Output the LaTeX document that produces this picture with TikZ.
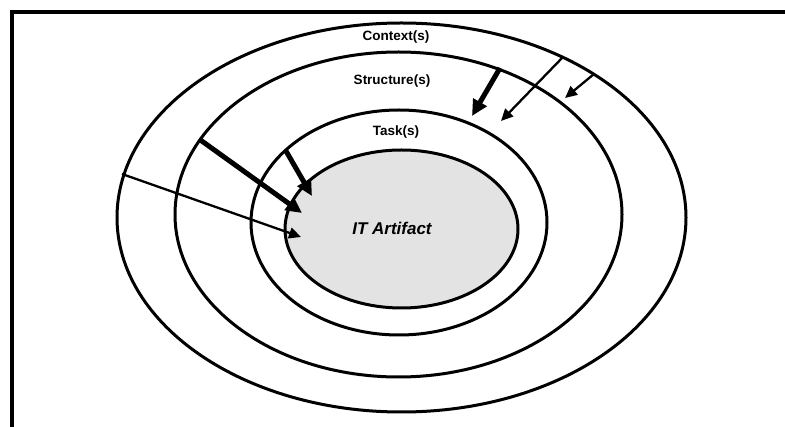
\documentclass[tikz,border=0pt]{standalone}
\usepackage{fontspec}
\setmainfont{Liberation Sans}
\usetikzlibrary{shapes.geometric,arrows.meta}
\begin{document}
\begin{tikzpicture}[x=1pt,y=-1pt,
  ring/.style={draw=black,line width=3pt,ellipse,inner sep=0pt,outer sep=0pt},
  lbl/.style={font=\fontsize{13.5}{16}\selectfont\bfseries,inner sep=0pt},
  thinarrow/.style={line width=2.3pt,-{Triangle[length=12pt,width=11pt]}},
  thickarrow/.style={line width=5pt,-{Triangle[length=16pt,width=15pt]}}]
  \useasboundingbox (0,0) rectangle (785,427);
  % frame
  \draw[line width=4.5pt] (12,427) -- (12,11.8) -- (785,11.8);
  % nested layers
  \node[ring,minimum width=569pt,minimum height=389pt] (ctx) at (401.5,217.5) {};
  \node[ring,minimum width=447pt,minimum height=325pt] (str) at (398.5,214.5) {};
  \node[ring,minimum width=296pt,minimum height=225pt] (tsk) at (399,222.5) {};
  \node[ring,fill=black!11,minimum width=233pt,minimum height=158pt] (art) at (401.5,229) {};
  % labels
  \node[lbl] (lctx) at (396,37.5) {Context(s)};
  \node[lbl] (lstr) at (392,81) {Structure(s)};
  \node[lbl] (ltsk) at (396,132) {Task(s)};
  \node[font=\fontsize{17}{20}\selectfont\bfseries\itshape,inner sep=0pt] (lart) at (392,228) {IT Artifact};
  % arrow end points
  \coordinate (a1s) at (122,174);  \coordinate (a1e) at (301,237);
  \coordinate (a2s) at (199,139);  \coordinate (a2e) at (302,213);
  \coordinate (a3s) at (286,151);  \coordinate (a3e) at (312,196);
  \coordinate (a4s) at (500,68);   \coordinate (a4e) at (472,116);
  \coordinate (a5s) at (563,57);   \coordinate (a5e) at (501,121);
  \coordinate (a6s) at (594,74);   \coordinate (a6e) at (565,98);
  % influences between layers
  \draw[thinarrow] (a1s) -- (a1e);
  \draw[thickarrow] (a2s) -- (a2e);
  \draw[thickarrow] (a3s) -- (a3e);
  \draw[thickarrow] (a4s) -- (a4e);
  \draw[thinarrow] (a5s) -- (a5e);
  \draw[thinarrow] (a6s) -- (a6e);
\end{tikzpicture}
\end{document}
